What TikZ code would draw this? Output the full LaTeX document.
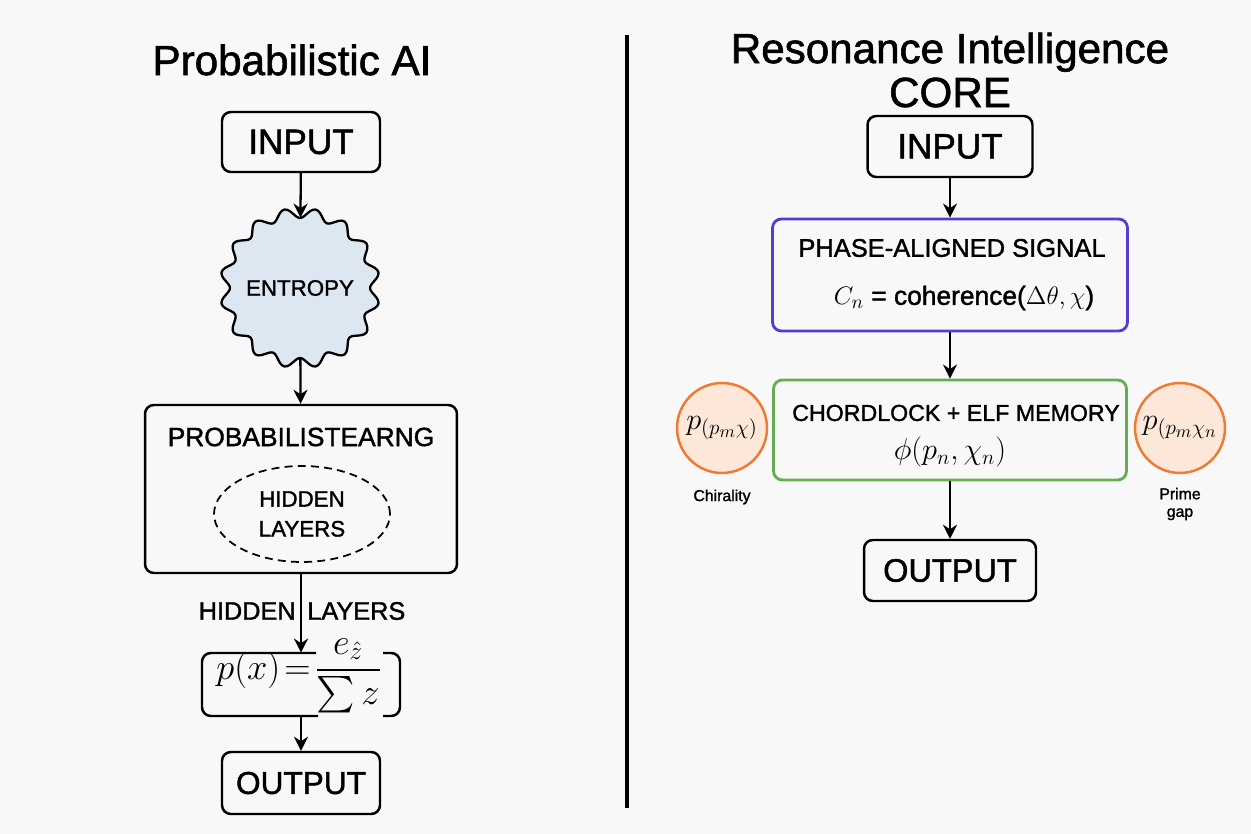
\documentclass[tikz,border=0pt]{standalone}
\usepackage{amsmath}
\usepackage{fontspec}
\setmainfont{Liberation Sans}[FakeBold=1.4]
\usetikzlibrary{arrows.meta,shapes.geometric}

\definecolor{bgcol}{HTML}{F8F8F8}
\definecolor{entropyblue}{HTML}{DCE7F1}
\definecolor{phasepurple}{HTML}{5A3CCB}
\definecolor{chordgreen}{HTML}{65AD55}
\definecolor{primeorange}{HTML}{F07A30}
\definecolor{primefill}{HTML}{FDE7D8}

\newcommand{\fs}[1]{\fontsize{#1}{1.2\dimexpr#1pt\relax}\selectfont}

\begin{document}
\begin{tikzpicture}[x=0.02cm, y=-0.02cm,
    box/.style={draw, line width=1.4pt, rounded corners=5pt, inner sep=0pt},
    arr/.style={line width=1.3pt, -{Stealth[length=8pt,width=8pt]}},
    primecircle/.style={circle, draw=primeorange, fill=primefill, line width=1.4pt, minimum size=1.8cm, inner sep=0pt}]
  \fill[bgcol] (0,0) rectangle (1251,834);
  \useasboundingbox (0,0) rectangle (1251,834);

  % left: probabilistic
  \node (ltitle) at (292,60) {\fs{24}Probabilistic AI};
  \node[box, minimum width=3.16cm, minimum height=1.2cm] (linput) at (301,142) {\fs{20}INPUT};
  \draw[line width=1.3pt, fill=entropyblue]
    plot[domain=0:360, samples=193] ({300+(75-5*cos(16*\x))*cos(\x)}, {288+(75-5*cos(16*\x))*sin(\x)}) -- cycle;
  \node[circle, minimum size=2.8cm, inner sep=0pt] (entropy) at (300,288) {\fs{12.7}ENTROPY};
  \node[box, minimum width=6.24cm, minimum height=3.36cm] (prob) at (301,489) {};
  \node (probtitle) at (301,437) {\fs{15}PROBABILISTEARNG};
  \node[ellipse, draw, line width=1pt, dash pattern=on 4.5pt off 3pt, minimum width=3.52cm, minimum height=1.92cm,
    align=center, inner sep=0pt, font=\fontsize{12.7}{17}\selectfont] (hidden) at (302,514) {HIDDEN\\LAYERS};
  \node[anchor=east, inner sep=0pt] (hlabl) at (296,611) {\fs{14.4}HIDDEN};
  \node[anchor=west, inner sep=0pt] (hlabr) at (307,611) {\fs{14.4}LAYERS};
  \node[minimum width=3.96cm, minimum height=1.26cm, inner sep=0pt] (fbox) at (301,684.5) {};
  \draw[line width=1.4pt, rounded corners=5pt] (316,653) -- (202,653) -- (202,716) -- (318,716);
  \draw[line width=1.4pt, rounded corners=5pt] (383,653) -- (400,653) -- (400,716) -- (383,716);
  \node (ptext) at (299,676) {\fs{20.74}$p(x)\!=\!\dfrac{e_{\hat{z}}}{\sum z}$};
  \node[box, minimum width=3.16cm, minimum height=1.24cm] (loutput) at (301,783) {\fs{18}OUTPUT};

  \draw[arr] (linput) -- (entropy);
  \draw[arr] (entropy) -- (prob);
  \draw[arr] (prob) -- (fbox);
  \draw[arr] (fbox) -- (loutput);

  \draw[line width=2.3pt] (627,35) -- (627,808);

  % right: resonance core
  \node[align=center, font=\fontsize{24}{25}\selectfont] (rtitle) at (950,70) {Resonance Intelligence\\CORE};
  \node[box, minimum width=3.3cm, minimum height=1.22cm] (rinput) at (950,146.5) {\fs{20}INPUT};
  \node[box, draw=phasepurple, line width=1.6pt, minimum width=7.1cm, minimum height=2.24cm] (phase) at (950,275) {};
  \node (phasetitle) at (952,248) {\fs{14.5}PHASE-ALIGNED SIGNAL};
  \node (phaseeq) at (964,298) {\fs{15}$C_n$ = coherence($\Delta\theta,\chi$)};
  \node[box, draw=chordgreen, line width=1.6pt, minimum width=7.06cm, minimum height=2cm] (chord) at (950,430) {};
  \node (chordtitle) at (956,413) {\fs{13.2}CHORDLOCK + ELF MEMORY};
  \node (chordeq) at (950,452) {\fs{17.28}$\phi(p_n,\chi_n)$};
  \node[primecircle] (chir) at (722,428) {\fs{17.28}$p_{(p_m\chi)}$};
  \node[primecircle] (pgap) at (1180,428) {\fs{17.28}$p_{(p_m\chi_n}$};
  \node (chirlab) at (722,497) {\fs{9}Chirality};
  \node[align=center, font=\fontsize{9}{10}\selectfont] (pgaplab) at (1180,504) {Prime\\gap};
  \node[box, minimum width=3.44cm, minimum height=1.22cm] (routput) at (950,570.5) {\fs{18.5}OUTPUT};

  \draw[arr] (rinput) -- (phase);
  \draw[arr] (phase) -- (chord);
  \draw[arr] (chord) -- (routput);
\end{tikzpicture}
\end{document}
